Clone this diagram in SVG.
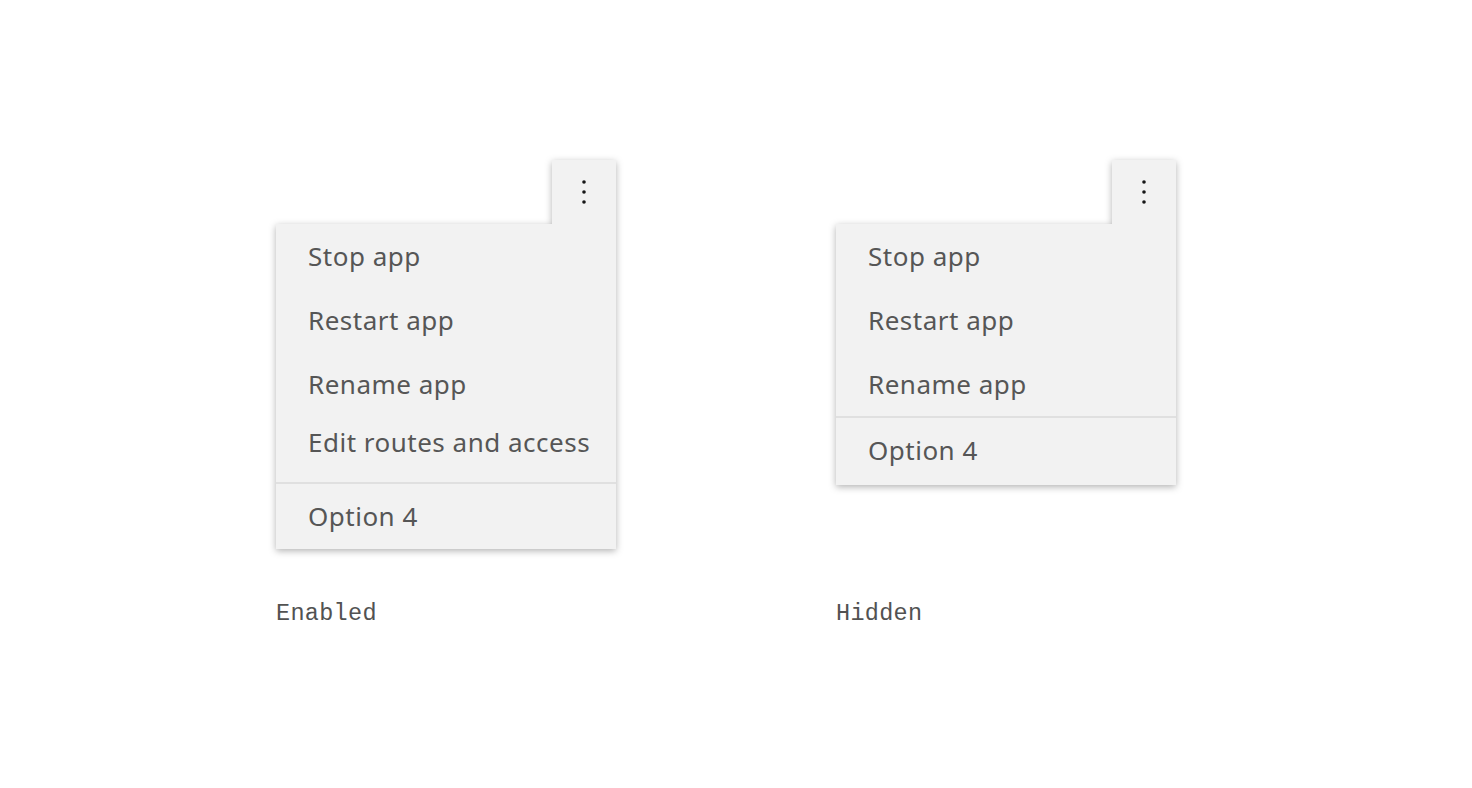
<svg xmlns="http://www.w3.org/2000/svg" width="1472" height="788" viewBox="0 0 1472 788">
<defs>
<filter id="sh" x="-20%" y="-20%" width="140%" height="140%">
<feDropShadow dx="0" dy="2" stdDeviation="3.5" flood-color="#000" flood-opacity="0.3"/>
</filter>
</defs>
<style>
.bg{fill:#f2f2f2}
.item{font-family:"Noto Sans","Liberation Sans",sans-serif;font-size:26px;letter-spacing:0.5px;fill:#565656}
.cap{font-family:"Liberation Mono",monospace;font-size:23.5px;letter-spacing:0.3px;fill:#525252}
.div{stroke:#e0e0e0;stroke-width:2}
.dot{fill:#161616}
</style>
<rect width="1472" height="788" fill="#ffffff"/>
<g id="menu-enabled">
<path class="bg" filter="url(#sh)" d="M552 160H616V549H276V224H552Z"/>
<circle class="dot" cx="584" cy="182" r="1.8"/>
<circle class="dot" cx="584" cy="192" r="1.8"/>
<circle class="dot" cx="584" cy="202" r="1.8"/>
<text class="item" x="308" y="266">Stop app</text>
<text class="item" x="308" y="330">Restart app</text>
<text class="item" x="308" y="394">Rename app</text>
<text class="item" x="308" y="452">Edit routes and access</text>
<line class="div" x1="276" y1="483" x2="616" y2="483"/>
<text class="item" x="308" y="526">Option 4</text>
<text class="cap" x="276" y="620">Enabled</text>
</g>
<g id="menu-hidden">
<path class="bg" filter="url(#sh)" d="M1112 160H1176V485H836V224H1112Z"/>
<circle class="dot" cx="1144" cy="182" r="1.8"/>
<circle class="dot" cx="1144" cy="192" r="1.8"/>
<circle class="dot" cx="1144" cy="202" r="1.8"/>
<text class="item" x="868" y="266">Stop app</text>
<text class="item" x="868" y="330">Restart app</text>
<text class="item" x="868" y="394">Rename app</text>
<line class="div" x1="836" y1="417" x2="1176" y2="417"/>
<text class="item" x="868" y="460">Option 4</text>
<text class="cap" x="836" y="620">Hidden</text>
</g>
<g id="connectors"/>
</svg>
